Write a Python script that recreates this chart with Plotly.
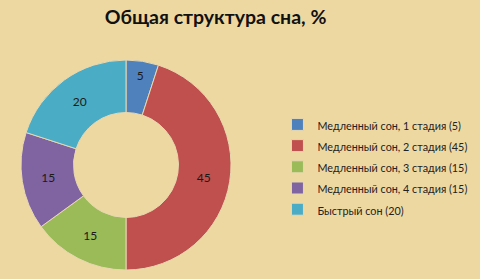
import plotly.graph_objects as go

labels = ["Медленный сон, 1 стадия (5)", "Медленный сон, 2 стадия (45)",
          "Медленный сон, 3 стадия (15)", "Медленный сон, 4 стадия (15)",
          "Быстрый сон (20)"]
values = [5, 45, 15, 15, 20]
colors = ["#4F81BD", "#C0504D", "#9BBB59", "#8064A2", "#4BACC6"]

# smaller visible legend text, while the legend font size sets the row spacing
legend_labels = [f"<span style='font-size:10.8px'>{t}</span>" for t in labels]

fig = go.Figure(go.Pie(
    labels=legend_labels, values=values, hole=0.5, sort=False, direction="clockwise",
    rotation=0, textinfo="value", textposition="inside", insidetextorientation="horizontal",
    textfont=dict(size=12, color="#1a1a1a", family="Lato"),
    marker=dict(colors=colors, line=dict(color="#e8d8b0", width=1)),
    domain=dict(x=[21/480, 231/480], y=[9/279, 219/279]),
))
fig.update_layout(
    width=480, height=279, margin=dict(l=0, r=0, t=0, b=0, autoexpand=False),
    paper_bgcolor="#EED8A2", plot_bgcolor="#EED8A2",
    title=dict(text="<b>Общая структура сна, %</b>", x=0.449, xanchor="center",
               y=0.94, yanchor="middle", font=dict(size=19.5, family="Lato", color="#111")),
    legend=dict(x=0.578, y=0.61, xanchor="left", yanchor="top",
                xref="container", yref="container",
                font=dict(size=14, family="Lato", color="#222"),
                bgcolor="rgba(0,0,0,0)", itemwidth=30),
    showlegend=True,
)
fig.write_html("out.html")
